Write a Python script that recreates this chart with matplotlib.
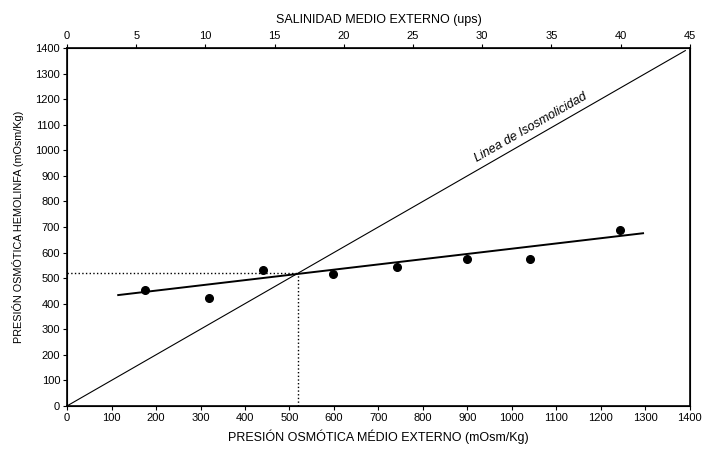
import matplotlib.pyplot as plt
import numpy as np

plt.rcParams['font.family'] = ['Liberation Sans', 'DejaVu Sans']

# presión osmótica del medio externo y de la hemolinfa (mOsm/Kg)
medio_externo = [176, 320, 441, 599, 741, 900, 1040, 1243]
hemolinfa = [453, 422, 531, 515, 543, 574, 574, 687]

# recta de regresión hemolinfa = a + b * medio
reg_intercepto = 410
reg_pendiente = 0.205
reg_rango = [115, 1295]

# punto isosmótico
punto_iso = 520

x_ticks = list(range(0, 1401, 100))
y_ticks = list(range(0, 1401, 100))
sal_ticks = list(range(0, 46, 5))

fig = plt.figure(figsize=(7.06, 4.49), dpi=100)
ax = fig.add_axes([0.095, 0.096, 0.882, 0.797])

# línea de isosmolicidad
ax.plot([0, 1390], [0, 1390], color='black', lw=0.8)

# regresión
xr = np.array(reg_rango)
ax.plot(xr, reg_intercepto + reg_pendiente * xr, color='black', lw=1.4)

# datos
ax.plot(medio_externo, hemolinfa, 'o', color='black', ms=5.5)

# líneas punteadas al punto isosmótico
ax.plot([0, punto_iso], [punto_iso, punto_iso], ':', color='black', lw=1)
ax.plot([punto_iso, punto_iso], [0, punto_iso], ':', color='black', lw=1)

ax.text(1050, 1070, 'Linea de Isosmolicidad', fontsize=9, rotation=45,
        transform_rotates_text=True, rotation_mode='anchor',
        ha='center', va='bottom', style='italic')

ax.set_xlim(0, 1400)
ax.set_ylim(0, 1400)
ax.set_xticks(x_ticks)
ax.set_yticks(y_ticks)
ax.tick_params(labelsize=8, length=3, width=0.8, pad=2)
ax.set_xlabel('PRESIÓN OSMÓTICA MÉDIO EXTERNO (mOsm/Kg)', fontsize=9, labelpad=5)
ax.set_ylabel('PRESIÓN OSMÓTICA HEMOLINFA (mOsm/Kg)', fontsize=7.8, labelpad=8)
for s in ax.spines.values():
    s.set_linewidth(1.2)

# eje superior: salinidad
ax2 = ax.twiny()
ax2.set_xlim(0, 45)
ax2.set_xticks(sal_ticks)
ax2.tick_params(labelsize=8, length=3, width=0.8, pad=2)
ax2.set_xlabel('SALINIDAD MEDIO EXTERNO (ups)', fontsize=9, labelpad=6)

fig.savefig('out.png', dpi=100)
